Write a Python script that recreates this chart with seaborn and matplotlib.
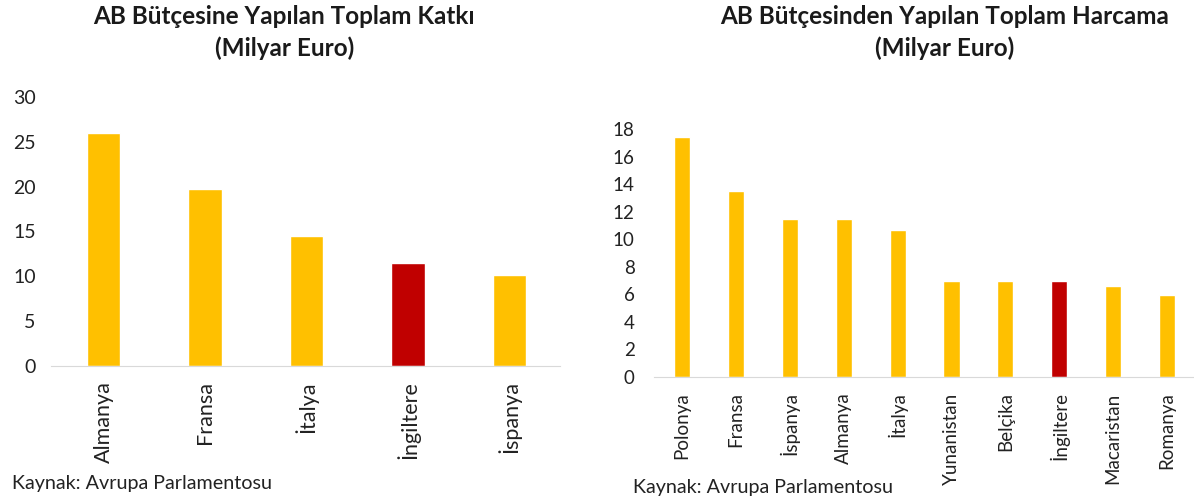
"""AB bütçesi: katkı ve harcama karşılaştırması."""

import matplotlib

matplotlib.use("Agg")
import matplotlib.pyplot as plt
import pandas as pd
import seaborn as sns

KATKI_ULKELER = ["Almanya", "Fransa", "İtalya", "İngiltere", "İspanya"]
KATKI_DEGERLER = [26.0, 19.7, 14.5, 11.5, 10.1]

HARCAMA_ULKELER = ["Polonya", "Fransa", "İspanya", "Almanya", "İtalya",
                   "Yunanistan", "Belçika", "İngiltere", "Macaristan", "Romanya"]
HARCAMA_DEGERLER = [17.4, 13.5, 11.5, 11.5, 10.7, 7.0, 7.0, 7.0, 6.6, 5.95]

VURGU = "İngiltere"
SARI = "#FFC000"
KIRMIZI = "#C00000"
FONT = ["Lato", "DejaVu Sans"]


def renkler(ulkeler):
    return [KIRMIZI if u == VURGU else SARI for u in ulkeler]


def ciz(ax, ulkeler, degerler, genislik, ust, adim, xyazi, yyazi, ypad):
    df = pd.DataFrame({"ulke": ulkeler, "deger": degerler})
    sns.barplot(data=df, x="ulke", y="deger", hue="ulke", palette=renkler(ulkeler),
                width=genislik, legend=False, ax=ax, saturation=1)
    ax.set_ylim(0, ust)
    ax.set_xlim(-0.52, len(ulkeler) - 0.5)
    ax.set_yticks(range(0, ust + 1, adim))
    ax.set_xlabel("")
    ax.set_ylabel("")
    sns.despine(ax=ax, left=True)
    ax.spines["bottom"].set_color("#d9d9d9")
    ax.tick_params(axis="both", length=0, colors="#222222")
    ax.tick_params(axis="x", rotation=90, pad=11, labelsize=xyazi)
    ax.tick_params(axis="y", pad=ypad, labelsize=yyazi)
    for etiket in ax.get_xticklabels() + ax.get_yticklabels():
        etiket.set_family(FONT)


def main():
    sns.set_style("white")
    plt.rcParams["font.family"] = FONT
    fig = plt.figure(figsize=(11.94, 5.03), dpi=100)

    ax1 = fig.add_axes([51 / 1194, 1 - 366 / 503, 509 / 1194, 269 / 503])
    ciz(ax1, KATKI_ULKELER, KATKI_DEGERLER, 0.33, 30, 5, 15.5, 14, 11)

    ax2 = fig.add_axes([654 / 1194, 1 - 377 / 503, 540 / 1194, 248 / 503])
    ciz(ax2, HARCAMA_ULKELER, HARCAMA_DEGERLER, 0.3, 18, 2, 13.5, 13.5, 14)

    baslik = dict(ha="center", va="center", fontsize=17.5, fontweight="bold",
                  color="#1a1a1a", family=FONT)
    fig.text(284 / 1194, 1 - 16 / 503, "AB Bütçesine Yapılan Toplam Katkı", **baslik)
    fig.text(285 / 1194, 1 - 48 / 503, "(Milyar Euro)", **baslik)
    fig.text(945 / 1194, 1 - 16 / 503, "AB Bütçesinden Yapılan Toplam Harcama", **baslik)
    fig.text(945 / 1194, 1 - 48 / 503, "(Milyar Euro)", **baslik)

    kaynak = dict(ha="left", va="center", fontsize=14.2, color="#222222", family=FONT)
    fig.text(12 / 1194, 1 - 483 / 503, "Kaynak: Avrupa Parlamentosu", **kaynak)
    fig.text(633 / 1194, 1 - 488 / 503, "Kaynak: Avrupa Parlamentosu", **kaynak)

    fig.savefig("out.png", dpi=100)
    plt.close(fig)


if __name__ == "__main__":
    main()
